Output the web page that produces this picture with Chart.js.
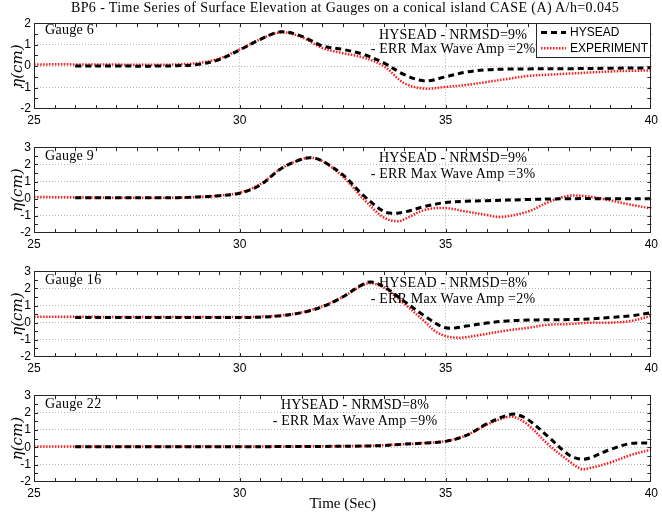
<!DOCTYPE html>
<html><head><meta charset="utf-8">
<script src="https://cdn.jsdelivr.net/npm/chart.js@4"></script>
<style>
body{margin:0;background:#fff;width:662px;height:514px;position:relative;overflow:hidden;}
.txt{position:absolute;white-space:nowrap;color:#000;font-family:"Liberation Serif",serif;font-size:14px;line-height:16px;}
canvas{position:absolute;left:0;}
</style></head><body>
<script>
// ---------------- data ----------------
const seriesNames = ['HYSEAD', 'EXPERIMENT'];
const chartTitle = 'BP6 - Time Series of Surface Elevation at Gauges on a conical island CASE (A) A/h=0.045';
const gaugeNames = ['Gauge 6', 'Gauge 9', 'Gauge 16', 'Gauge 22'];
const nrmsdValues = ['9%', '9%', '8%', '8%'];
const errAmpValues = ['2%', '3%', '2%', '9%'];
const yMinValues = [-2, -2, -2, -2];
const yMaxValues = [2, 3, 3, 3];
const xTickLabels = [25, 30, 35, 40];
const xLabel = 'Time (Sec)';
const yLabel = 'η(cm)';

// Gauge 6
const g6ModelT   = [26, 27, 28, 28.5, 29, 29.5, 30, 30.5, 31, 31.5, 32, 32.5, 33, 33.5, 34, 34.5, 35, 35.5, 36, 36.5, 37, 38, 39, 40];
const g6ModelEta = [0, 0, 0, 0.02, 0.08, 0.3, 0.75, 1.25, 1.6, 1.4, 0.95, 0.78, 0.55, 0.15, -0.4, -0.69, -0.5, -0.28, -0.17, -0.14, -0.13, -0.12, -0.1, -0.08];
const g6ExpT     = [25, 26, 27, 28, 28.5, 29, 29.5, 30, 30.5, 31, 31.5, 32, 32.5, 33, 33.5, 34, 34.5, 35, 35.5, 36, 36.5, 37, 37.5, 38, 38.5, 39, 39.5, 40];
const g6ExpEta   = [0.08, 0.08, 0.07, 0.06, 0.08, 0.15, 0.35, 0.78, 1.25, 1.57, 1.35, 0.85, 0.6, 0.4, 0.0, -0.8, -1.05, -0.97, -0.88, -0.74, -0.6, -0.46, -0.4, -0.35, -0.3, -0.25, -0.22, -0.2];

// Gauge 9
const g9ModelT   = [26, 27, 28, 28.5, 29, 29.5, 30, 30.5, 31, 31.5, 31.75, 32, 32.5, 33, 33.5, 33.75, 34, 34.5, 35, 35.5, 36, 37, 38, 39, 40];
const g9ModelEta = [0.05, 0.05, 0.05, 0.06, 0.1, 0.17, 0.32, 0.8, 1.75, 2.3, 2.38, 2.2, 1.4, 0.2, -0.75, -0.85, -0.78, -0.45, -0.22, -0.15, -0.12, -0.05, 0, 0, 0];
const g9ExpT     = [25, 26, 27, 28, 28.5, 29, 29.5, 30, 30.5, 31, 31.5, 31.75, 32, 32.5, 33, 33.5, 33.85, 34, 34.5, 35, 35.5, 36, 36.35, 37, 37.5, 38, 38.5, 39, 39.5, 40];
const g9ExpEta   = [0.1, 0.08, 0.06, 0.05, 0.06, 0.1, 0.18, 0.35, 0.85, 1.75, 2.3, 2.38, 2.2, 1.3, 0.0, -1.1, -1.32, -1.2, -0.65, -0.55, -0.75, -0.95, -1.07, -0.75, -0.2, 0.17, 0.12, -0.1, -0.35, -0.57];

// Gauge 16
const g16ModelT   = [26, 27, 28, 29, 30, 30.5, 31, 31.5, 32, 32.5, 33, 33.2, 33.5, 34, 34.5, 35, 35.5, 36, 36.5, 37, 37.5, 38, 38.5, 39, 39.5, 40];
const g16ModelEta = [0.3, 0.3, 0.3, 0.3, 0.3, 0.32, 0.4, 0.58, 0.92, 1.5, 2.25, 2.37, 2.1, 1.24, 0.38, -0.3, -0.2, -0.02, 0.1, 0.15, 0.17, 0.18, 0.22, 0.3, 0.4, 0.58];
const g16ExpT     = [25, 26, 27, 28, 29, 30, 30.5, 31, 31.5, 32, 32.5, 33, 33.2, 33.5, 34, 34.5, 34.75, 35, 35.25, 35.5, 35.8, 36.5, 37, 37.5, 38, 38.5, 39, 39.5, 40];
const g16ExpEta   = [0.35, 0.35, 0.33, 0.33, 0.33, 0.33, 0.35, 0.42, 0.6, 0.95, 1.5, 2.2, 2.3, 2.05, 1.1, 0.05, -0.5, -0.78, -0.87, -0.85, -0.73, -0.45, -0.3, -0.12, -0.08, 0, 0, 0.1, 0.4];

// Gauge 22
const g22ModelT   = [26, 28, 30, 31, 32, 33, 33.5, 34, 34.5, 35, 35.5, 36, 36.5, 36.7, 37, 37.5, 38, 38.3, 38.5, 39, 39.5, 40];
const g22ModelEta = [0.03, 0.03, 0.03, 0.04, 0.05, 0.07, 0.1, 0.18, 0.24, 0.34, 0.68, 1.35, 1.85, 1.9, 1.6, 0.6, -0.45, -0.69, -0.62, -0.13, 0.22, 0.24];
const g22ExpT     = [25, 26, 28, 30, 31, 32, 33, 33.5, 34, 34.5, 35, 35.5, 36, 36.5, 36.7, 37, 37.5, 38, 38.3, 38.5, 39, 39.5, 40];
const g22ExpEta   = [0.05, 0.05, 0.05, 0.05, 0.05, 0.06, 0.08, 0.12, 0.18, 0.25, 0.35, 0.68, 1.3, 1.74, 1.72, 1.3, 0.15, -0.8, -1.25, -1.2, -0.88, -0.45, -0.13];

// ---------------- drawing ----------------
function pts(ts, vs) { return ts.map((t, i) => ({x: t, y: vs[i]})); }

const framePlugin = {
  id: 'frame',
  afterDraw(chart) {
    const {ctx, chartArea: {left, right, top, bottom}, scales: {x, y}} = chart;
    ctx.save();
    ctx.strokeStyle = '#262626'; ctx.lineWidth = 1; ctx.setLineDash([]);
    const L = 4;
    ctx.beginPath();
    x.ticks.forEach(t => {
      if (t.value <= x.min || t.value >= x.max) return;
      const p = Math.round(x.getPixelForValue(t.value)) + 0.5;
      ctx.moveTo(p, bottom); ctx.lineTo(p, bottom - L);
      ctx.moveTo(p, top); ctx.lineTo(p, top + L);
    });
    y.ticks.forEach(t => {
      if (t.value <= y.min || t.value >= y.max) return;
      const p = Math.round(y.getPixelForValue(t.value)) + 0.5;
      ctx.moveTo(left, p); ctx.lineTo(left + L, p);
      ctx.moveTo(right, p); ctx.lineTo(right - L, p);
    });
    ctx.stroke();
    ctx.strokeRect(Math.round(left) + 0.5, Math.round(top) + 0.5, Math.round(right - left) - 1, Math.round(bottom - top) - 1);
    ctx.restore();
  }
};

const legendPlugin = {
  id: 'boxLegend',
  afterDraw(chart) {
    if (!chart.options.plugins.boxLegend || !chart.options.plugins.boxLegend.show) return;
    const {ctx, chartArea} = chart;
    const w = 114, h = 34;
    const x0 = Math.round(chartArea.right) - w - 1, y0 = Math.round(chartArea.top);
    ctx.save();
    ctx.fillStyle = '#fff'; ctx.fillRect(x0, y0, w, h);
    ctx.strokeStyle = '#262626'; ctx.lineWidth = 1; ctx.setLineDash([]);
    ctx.strokeRect(x0 + 0.5, y0 + 0.5, w, h);
    chart.data.datasets.forEach((ds, i) => {
      const cy = y0 + 9.5 + i * 15.7;
      ctx.strokeStyle = ds.borderColor; ctx.lineWidth = ds.borderWidth; ctx.setLineDash(ds.borderDash);
      ctx.beginPath(); ctx.moveTo(x0 + 5, cy); ctx.lineTo(x0 + 30, cy); ctx.stroke();
      ctx.setLineDash([]);
      ctx.fillStyle = '#000'; ctx.font = '12px "Liberation Sans"'; ctx.textBaseline = 'middle'; ctx.textAlign = 'left';
      ctx.fillText(ds.label, x0 + 34, cy + 0.5);
    });
    ctx.restore();
  }
};

function gridColor(scaleMin, scaleMax, every) {
  return ctx => {
    const v = ctx.tick ? ctx.tick.value : null;
    if (v === null || v <= scaleMin || v >= scaleMax) return 'rgba(0,0,0,0)';
    return (Math.abs(v / every - Math.round(v / every)) < 1e-9) ? '#b4b4b4' : 'rgba(0,0,0,0)';
  };
}

function makePanel(i, plotTop, plotH, xh, mT, mE, eT, eE, showXTitle, showLegend) {
  const padTop = 8;
  const h = padTop + plotH + xh;
  const cv = document.createElement('canvas');
  cv.width = 662; cv.height = h;
  cv.style.top = (plotTop - padTop) + 'px';
  cv.style.width = '662px'; cv.style.height = h + 'px';
  document.body.appendChild(cv);
  const yMin = yMinValues[i], yMax = yMaxValues[i];
  new Chart(cv, {
    type: 'line',
    data: {
      datasets: [
        {label: seriesNames[0], data: pts(mT, mE), borderColor: '#000000', borderWidth: 3, borderDash: [6, 4],
         pointRadius: 0, tension: 0.35, fill: false},
        {label: seriesNames[1], data: pts(eT, eE), borderColor: '#ff1a1a', borderWidth: 2.5, borderDash: [1.5, 1.5],
         pointRadius: 0, tension: 0.35, fill: false}
      ]
    },
    options: {
      responsive: false, animation: false, devicePixelRatio: 1,
      layout: {padding: {top: padTop, right: 7, left: 0, bottom: 0}},
      plugins: {legend: {display: false}, tooltip: {enabled: false}, boxLegend: {show: showLegend}},
      scales: {
        x: {
          type: 'linear', min: 25, max: 40,
          ticks: {stepSize: 0.5, autoSkip: false, maxRotation: 0, minRotation: 0, padding: 4, color: '#000',
                  font: {family: 'Liberation Sans', size: 12},
                  callback: v => xTickLabels.includes(v) ? String(v) : ''},
          grid: {drawTicks: false, lineWidth: 1, color: gridColor(25, 40, 5)},
          border: {display: false, dash: [1, 2]},
          title: {display: showXTitle, text: xLabel, color: '#000',
                  font: {family: 'Liberation Serif', size: 15}, padding: {top: 0, bottom: 1}},
          afterFit: s => { s.height = xh; }
        },
        y: {
          type: 'linear', min: yMin, max: yMax,
          ticks: {stepSize: 0.5, autoSkip: false, padding: 3, color: '#000',
                  font: {family: 'Liberation Sans', size: 12},
                  callback: v => Number.isInteger(v) ? String(v) : ''},
          grid: {drawTicks: false, lineWidth: 1, color: gridColor(yMin, yMax, 1)},
          border: {display: false, dash: [1, 2]},
          title: {display: true, text: yLabel, color: '#000',
                  font: {family: 'DejaVu Serif', size: 15, style: 'italic'}, padding: {top: 9, bottom: 0}},
          afterFit: s => { s.width = 34; }
        }
      }
    },
    plugins: [framePlugin, legendPlugin]
  });
}

makePanel(0, 21, 88, 22, g6ModelT, g6ModelEta, g6ExpT, g6ExpEta, false, true);
makePanel(1, 145, 88, 22, g9ModelT, g9ModelEta, g9ExpT, g9ExpEta, false, false);
makePanel(2, 269, 88, 22, g16ModelT, g16ModelEta, g16ExpT, g16ExpEta, false, false);
makePanel(3, 393, 89, 32, g22ModelT, g22ModelEta, g22ExpT, g22ExpEta, true, false);

// ---------------- texts ----------------
function addText(str, x, y, opts) {
  const d = document.createElement('div');
  d.className = 'txt';
  d.textContent = str;
  d.style.left = x + 'px'; d.style.top = y + 'px';
  if (opts && opts.center) d.style.transform = 'translate(-50%,-50%)';
  else d.style.transform = 'translateY(-50%)';
  if (opts && opts.size) d.style.fontSize = opts.size + 'px';
  if (opts && opts.ls) d.style.letterSpacing = opts.ls + 'px';
  document.body.appendChild(d);
  return d;
}
addText(chartTitle, 345, 8, {center: true, size: 14, ls: 0.4});
const gaugeY = [30, 156, 280, 404];
gaugeNames.forEach((g, i) => addText(g, 45, gaugeY[i], {ls: 0.3}));
const annot = [[453, 35, 48.5], [453, 158, 174], [453, 283, 299], [355, 405, 421]];
annot.forEach((a, i) => {
  addText('HYSEAD - NRMSD=' + nrmsdValues[i], a[0], a[1], {center: true, ls: 0.2});
  addText('- ERR Max Wave Amp =' + errAmpValues[i], a[0], a[2], {center: true, ls: 0.2});
});
</script>
</body></html>
